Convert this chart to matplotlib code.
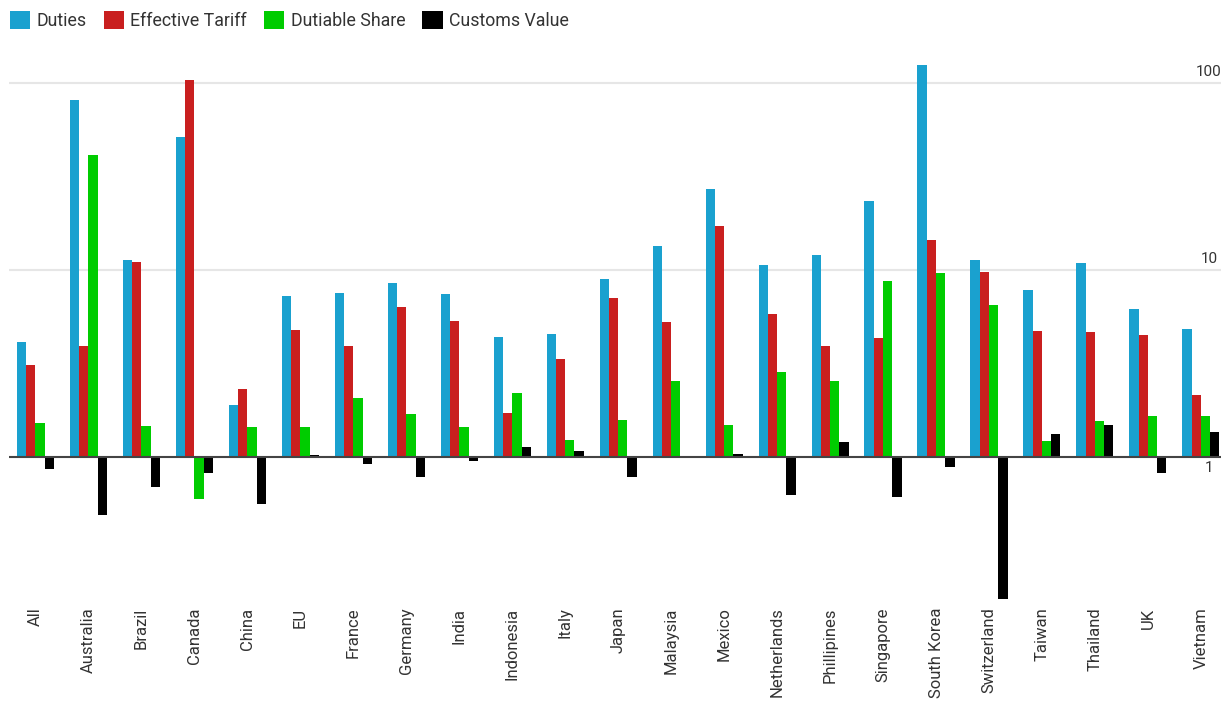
import numpy as np
import matplotlib
matplotlib.use("Agg")
import matplotlib.pyplot as plt

plt.rcParams['font.family'] = ['Roboto', 'DejaVu Sans']

# Countries and ratios (log scale, bars grow from 1)
countries = ["All", "Australia", "Brazil", "Canada", "China", "EU", "France", "Germany",
             "India", "Indonesia", "Italy", "Japan", "Malaysia", "Mexico", "Netherlands",
             "Phillipines", "Singapore", "South Korea", "Switzerland", "Taiwan", "Thailand",
             "UK", "Vietnam"]
duties = [4.13, 81.3, 11.3, 51.7, 1.90, 7.24, 7.49, 8.49, 7.46, 4.37, 4.54, 8.90, 13.5,
          27.1, 10.7, 12.0, 23.4, 124.6, 11.3, 7.82, 10.9, 6.20, 4.85]
effective_tariff = [3.12, 3.94, 11.0, 103.5, 2.31, 4.78, 3.91, 6.33, 5.37, 1.71, 3.36, 7.11,
                    5.26, 17.2, 5.83, 3.91, 4.31, 14.5, 9.70, 4.70, 4.66, 4.50, 2.15]
dutiable_share = [1.53, 41.3, 1.46, 0.60, 1.44, 1.44, 2.06, 1.70, 1.44, 2.20, 1.24, 1.57,
                  2.54, 1.49, 2.86, 2.54, 8.71, 9.66, 6.52, 1.22, 1.55, 1.66, 1.66]
customs_value = [0.86, 0.49, 0.69, 0.82, 0.56, 1.03, 0.92, 0.78, 0.95, 1.13, 1.08, 0.78,
                 1.0, 1.04, 0.63, 1.20, 0.61, 0.88, 0.174, 1.33, 1.49, 0.82, 1.36]

series = [("Duties", duties, "#1aa1cf"),
          ("Effective Tariff", effective_tariff, "#c91f1f"),
          ("Dutiable Share", dutiable_share, "#00cc00"),
          ("Customs Value", customs_value, "#000000")]

fig = plt.figure(figsize=(12.21, 7.07), dpi=100)
ax = fig.add_axes([9 / 1221, 105 / 707, 1 - 9 / 1221, 552 / 707])

x = np.arange(len(countries))
w = 0.175
for i, (name, vals, col) in enumerate(series):
    vals = np.array(vals)
    ax.bar(x + (i - 1.5) * w, vals - 1, bottom=1, width=w, color=col,
           label=name, zorder=3)

ax.set_yscale('log')
ax.set_ylim(0.168, 150)
ax.set_xlim(-0.5, 22.38)

# gridlines and baseline
for v in [10, 100]:
    ax.axhline(v, color="#e6e6e6", lw=1.5, zorder=1)
ax.axhline(1, color="#444444", lw=1.5, zorder=4)

ax.set_yticks([])
ax.minorticks_off()
for lab, yv, dy in [("100", 100, 11), ("10", 10, 11), ("1", 1, -11)]:
    ax.annotate(lab, xy=(1, yv), xycoords=('axes fraction', 'data'),
                xytext=(-12, dy), textcoords='offset pixels',
                ha='center', va='center', fontsize=11, color="#333333")

ax.set_xticks(x)
ax.set_xticklabels(countries, rotation=90, fontsize=12, color="#333333")
ax.tick_params(axis='x', length=0, pad=4)
for s in ax.spines.values():
    s.set_visible(False)

fig.legend(loc='upper left', bbox_to_anchor=(10 / 1221, 1 - 11 / 707), ncol=4,
           frameon=False, fontsize=12.8, handlelength=1.15, handleheight=1.15,
           handletextpad=0.35, columnspacing=0.95, borderpad=0, borderaxespad=0,
           labelcolor="#333333")

fig.savefig("out.png", dpi=100, facecolor="white")
